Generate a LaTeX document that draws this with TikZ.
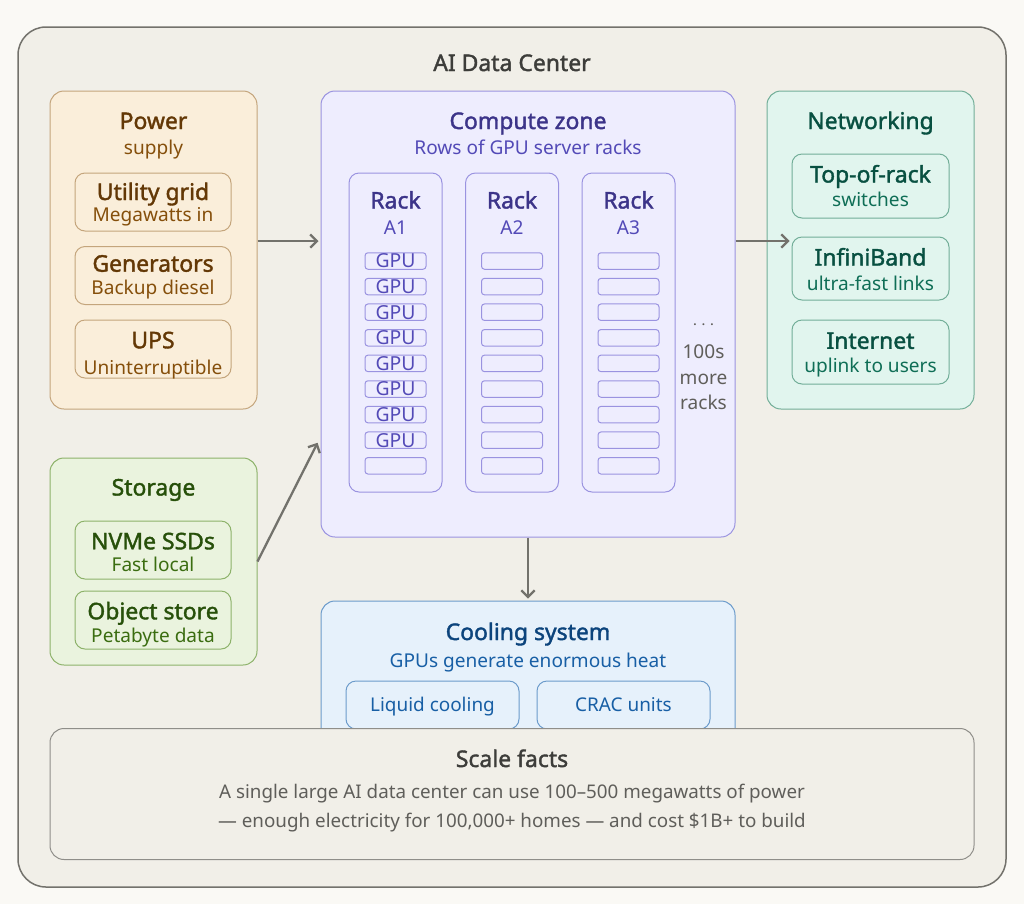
\documentclass[tikz,border=0pt]{standalone}
\usepackage{fontspec}
\usetikzlibrary{arrows.meta}
\setmainfont{Noto Sans}
\newfontfamily\headfont[FakeBold=1.6]{Noto Sans}
\newdimen\px
\px=0.75pt
\definecolor{pagebg}{HTML}{FAF9F5}
\definecolor{hallfill}{HTML}{F1EFE8}
\definecolor{hallline}{HTML}{73726C}
\definecolor{hallhead}{HTML}{3D3D3A}
\definecolor{halltext}{HTML}{5F5E5A}
\definecolor{powerfill}{HTML}{FAEEDA}
\definecolor{powerline}{HTML}{C4A57C}
\definecolor{powerhead}{HTML}{633806}
\definecolor{powertext}{HTML}{854F0B}
\definecolor{computefill}{HTML}{EEEDFE}
\definecolor{computeline}{HTML}{9A93E0}
\definecolor{computehead}{HTML}{3C3489}
\definecolor{computetext}{HTML}{534AB7}
\definecolor{netfill}{HTML}{E1F5EE}
\definecolor{netline}{HTML}{72AE98}
\definecolor{nethead}{HTML}{085041}
\definecolor{nettext}{HTML}{0F6E56}
\definecolor{storefill}{HTML}{EAF3DE}
\definecolor{storeline}{HTML}{8DB26A}
\definecolor{storehead}{HTML}{27500A}
\definecolor{storetext}{HTML}{3B6D11}
\definecolor{coolfill}{HTML}{E6F1FB}
\definecolor{coolline}{HTML}{6C9BCB}
\definecolor{coolhead}{HTML}{0C447C}
\definecolor{cooltext}{HTML}{185FA5}

\begin{document}
\begin{tikzpicture}[
    x=0.75pt, y=-0.75pt,
      panel/.style={draw, rectangle, rounded corners=14\px, line width=1\px, inner sep=0pt},
      subbox/.style={panel, rounded corners=10\px, minimum width=156\px},
      slotbox/.style={draw=computeline, rectangle, rounded corners=3\px, line width=1\px, inner sep=0pt, minimum width=61\px, minimum height=16.5\px, text=computetext, font=\fontsize{14.5}{16}\selectfont},
      coolbox/.style={panel, rounded corners=10\px, draw=coolline, fill=coolfill, minimum width=173\px, minimum height=48\px, text=cooltext, text height=13pt, text depth=3pt, font=\fontsize{14.2}{16}\selectfont},
      headtext/.style={anchor=base, font=\headfont\fontsize{17.2}{20}\selectfont},
      subtext/.style={anchor=base, font=\fontsize{14.3}{16}\selectfont},
      bodytext/.style={anchor=base, font=\fontsize{14.1}{16}\selectfont},
      arrow/.style={-{Straight Barb[length=5pt, width=10pt]}, line width=2.3\px, color=hallline, shorten >=2\px}
  ]
      % Page and hall
      \fill[pagebg] (0,0) rectangle (1024,904);
      \node (hall) at (512,457) [panel, rounded corners=28\px, draw=hallline, line width=1.5\px, fill=hallfill, minimum width=988\px, minimum height=860\px] {};
      \node (halltitle) at (512,71) [headtext, text=hallhead] {AI Data Center};

      % Power
      \node (power) at (153.5,250) [panel, draw=powerline, fill=powerfill, minimum width=207\px, minimum height=318\px] {};
      \node (powertitle) at (153.5,129) [headtext, text=powerhead] {Power};
      \node (powersub) at (153.5,154) [subtext, text=powertext] {supply};
      \node (grid) at (153,202) [subbox, draw=powerline, fill=powerfill, minimum height=58\px] {};
      \node (gridtitle) at (153,200) [headtext, text=powerhead] {Utility grid};
      \node (gridsub) at (153,221.7) [subtext, text=powertext] {Megawatts in};
      \node (generators) at (153,275.5) [subbox, draw=powerline, fill=powerfill, minimum height=58\px] {};
      \node (generatorstitle) at (153,271.7) [headtext, text=powerhead] {Generators};
      \node (generatorssub) at (153,294.3) [subtext, text=powertext] {Backup diesel};
      \node (ups) at (153,349) [subbox, draw=powerline, fill=powerfill, minimum height=58\px] {};
      \node (upstitle) at (153,348.3) [headtext, text=powerhead] {UPS};
      \node (upssub) at (153,374) [subtext, text=powertext] {Uninterruptible};

      % Storage
      \node (storage) at (153.5,561.5) [panel, draw=storeline, fill=storefill, minimum width=207\px, minimum height=207\px] {};
      \node (storagetitle) at (153.5,495.5) [headtext, text=storehead] {Storage};
      \node (nvme) at (153,550) [subbox, draw=storeline, fill=storefill, minimum height=58\px] {};
      \node (nvmetitle) at (153,549.3) [headtext, text=storehead] {NVMe SSDs};
      \node (nvmesub) at (153,571.7) [subtext, text=storetext] {Fast local};
      \node (objects) at (153,620) [subbox, draw=storeline, fill=storefill, minimum height=58\px] {};
      \node (objectstitle) at (153,619.3) [headtext, text=storehead] {Object store};
      \node (objectssub) at (153,642) [subtext, text=storetext] {Petabyte data};

      % Compute zone
      \node (compute) at (528,314) [panel, draw=computeline, fill=computefill, minimum width=414\px, minimum height=446\px] {};
      \node (computetitle) at (528,129) [headtext, text=computehead] {Compute zone};
      \node (computesub) at (528,154) [subtext, text=computetext] {Rows of GPU server racks};

      % Racks
      \foreach \name/\xpos in {A1/395.5, A2/512, A3/628.5} {
        \node (rack\name) at (\xpos,332.5) [panel, rounded corners=10\px, draw=computeline, fill=computefill, minimum width=93\px, minimum height=319\px] {};
        \node (racktitle\name) at (\xpos,208.5) [headtext, text=computehead] {Rack};
        \node (racksub\name) at (\xpos,234.3) [subtext, text=computetext] {\name};
      }
      \foreach \row in {0,...,8} {
        \node (slotA\row) at (395.5,261+25.6*\row) [slotbox] {\ifnum\row<8 GPU\fi};
        \node (slotB\row) at (512,261+25.6*\row) [slotbox] {};
        \node (slotC\row) at (628.5,261+25.6*\row) [slotbox] {};
      }
      \node (moredots) at (703.5,329) [subtext, text=halltext] {$\cdots$};
      \node (morecount) at (703.5,358) [subtext, text=halltext] {100s};
      \node (moreword) at (703.5,384) [subtext, text=halltext] {more};
      \node (moreracks) at (703.5,409.5) [subtext, text=halltext] {racks};

      % Networking
      \node (network) at (870.5,250) [panel, draw=netline, fill=netfill, minimum width=207\px, minimum height=318\px] {};
      \node (networktitle) at (870.5,129) [headtext, text=nethead] {Networking};
      \node (tor) at (870.5,186) [subbox, draw=netline, fill=netfill, minimum width=157\px, minimum height=64\px] {};
      \node (tortitle) at (870.5,182.5) [headtext, text=nethead] {Top-of-rack};
      \node (torsub) at (870.5,206.7) [subtext, text=nettext] {switches};
      \node (infiniband) at (870.5,268.5) [subbox, draw=netline, fill=netfill, minimum width=157\px, minimum height=63\px] {};
      \node (infinibandtitle) at (870.5,265.5) [headtext, text=nethead] {InfiniBand};
      \node (infinibandsub) at (870.5,290) [subtext, text=nettext] {ultra-fast links};
      \node (internet) at (870.5,352) [subbox, draw=netline, fill=netfill, minimum width=157\px, minimum height=64\px] {};
      \node (internettitle) at (870.5,348.8) [headtext, text=nethead] {Internet};
      \node (internetsub) at (870.5,372.7) [subtext, text=nettext] {uplink to users};

      % Cooling
      \node (cooling) at (528,680) [panel, draw=coolline, fill=coolfill, minimum width=414\px, minimum height=158\px] {};
      \node (coolingtitle) at (528,640) [headtext, text=coolhead] {Cooling system};
      \node (coolingsub) at (528,667.7) [subtext, text=cooltext] {GPUs generate enormous heat};
      \node (liquid) at (432.5,705) [coolbox] {Liquid cooling};
      \node (crac) at (623.5,705) [coolbox] {CRAC units};

      % Scale facts
      \node (scale) at (512,794) [panel, draw=hallline!80, fill=hallfill, minimum width=924\px, minimum height=131\px] {};
      \node (scaletitle) at (512,767) [headtext, text=hallhead] {Scale facts};
      \node (scaleone) at (512,798.3) [bodytext, text=halltext] {A single large AI data center can use 100–500 megawatts of power};
      \node (scaletwo) at (512,827.3) [bodytext, text=halltext] {— enough electricity for 100,000+ homes — and cost \$1B+ to build};

      % Arrows
      \draw[arrow] ([yshift=9\px]power.east) -- ([yshift=73\px]compute.west);
      \draw[arrow] (storage.east) -- ([xshift=-2\px, yshift=-127\px]compute.west);
      \draw[arrow] ([yshift=73\px]compute.east) -- ([yshift=27.5\px]infiniband.west);
      \draw[arrow] (compute.south) -- (cooling.north);
  \end{tikzpicture}
\end{document}
